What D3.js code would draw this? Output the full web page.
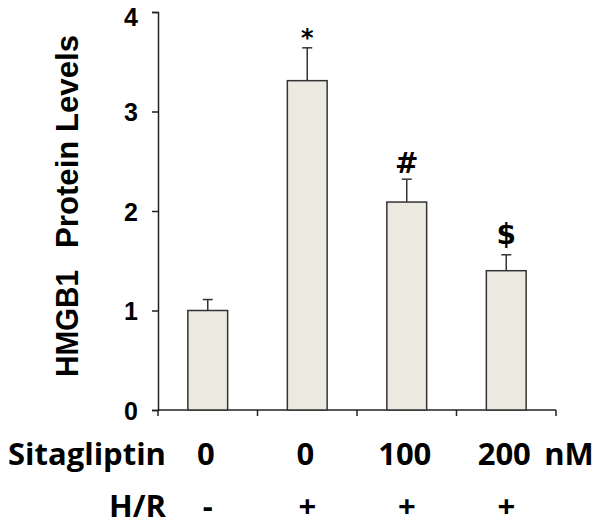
<!DOCTYPE html>
<html><head><meta charset="utf-8">
<script src="https://cdn.jsdelivr.net/npm/d3@7"></script>
<style>body{margin:0;background:#fff}</style>
</head><body>
<svg id="c" width="600" height="526"></svg>
<script>
const categories = ["g1","g2","g3","g4"];
const values = [1.00, 3.31, 2.09, 1.40];
const errors = [0.11, 0.33, 0.23, 0.16];
const marks = ["", "*", "#", "$"];
const sitagliptin = ["0","0","100","200"];
const hr = ["-","+","+","+"];
const yTicks = [0,1,2,3,4];

const svg = d3.select("#c");
const x = d3.scaleBand().domain(categories).range([158, 556]).paddingInner(0.6).paddingOuter(0.3);
const xb = d3.scaleBand().domain(categories).range([158, 556]);
const y = d3.scaleLinear().domain([0,4]).range([410, 12]);
const af = "Liberation Sans, Arial, sans-serif";

// y axis
const ya = svg.append("g").attr("transform","translate(158,0)")
  .call(d3.axisLeft(y).tickValues(yTicks).tickSize(6).tickPadding(14).tickFormat(d3.format("d")));
ya.select(".domain").attr("stroke","#222").attr("stroke-width",1.5);
ya.selectAll(".tick line").attr("stroke","#222").attr("stroke-width",1.5);
ya.selectAll("text").attr("font-family",af).attr("font-weight","bold").attr("font-size",25).attr("fill","#000")
  .attr("dy", d => d === 4 ? "0.55em" : "0.36em");

// x axis line with boundary ticks
const xg = svg.append("g").attr("transform","translate(0,410)");
xg.append("line").attr("x1",158).attr("x2",556).attr("stroke","#222").attr("stroke-width",1.5);
const bounds = categories.map(c=>xb(c)).concat([xb.range()[1]]);
xg.selectAll(".bt").data(bounds).join("line").attr("x1",d=>d).attr("x2",d=>d).attr("y1",0).attr("y2",6).attr("stroke","#222").attr("stroke-width",1.5);

// bars
svg.selectAll(".bar").data(categories).join("rect")
  .attr("x",c=>x(c)).attr("width",x.bandwidth())
  .attr("y",(c,i)=>y(values[i])).attr("height",(c,i)=>y(0)-y(values[i]))
  .attr("fill","#ECEAE0").attr("stroke","#333").attr("stroke-width",1.5);

// error bars
const cx = c => x(c)+x.bandwidth()/2;
svg.selectAll(".err").data(categories).join("line")
  .attr("x1",cx).attr("x2",cx).attr("y1",(c,i)=>y(values[i])).attr("y2",(c,i)=>y(values[i]+errors[i]))
  .attr("stroke","#333").attr("stroke-width",1.5);
svg.selectAll(".cap").data(categories).join("line")
  .attr("x1",c=>cx(c)-5).attr("x2",c=>cx(c)+5).attr("y1",(c,i)=>y(values[i]+errors[i])).attr("y2",(c,i)=>y(values[i]+errors[i]))
  .attr("stroke","#333").attr("stroke-width",1.5);

// significance marks
const markGap = {"*": 2, "#": 6, "$": 11};
const markSize = {"*": 24, "#": 28, "$": 28};
svg.selectAll(".mk").data(categories).join("text")
  .attr("x",cx).attr("y",(c,i)=>y(values[i]+errors[i]) - (markGap[marks[i]]||0))
  .attr("text-anchor","middle").attr("font-family","DejaVu Sans, sans-serif").attr("font-weight","bold")
  .attr("font-size",(c,i)=>markSize[marks[i]]||24).attr("fill","#000").text((c,i)=>marks[i]);

// y title (two word-groups, fitted to reference length)
const tg = svg.append("g").attr("transform","translate(78,0) rotate(-90)");
tg.append("text").attr("x",-323.5).attr("text-anchor","middle")
  .attr("font-family",af).attr("font-weight","bold").attr("font-size",32).attr("fill","#000")
  .attr("textLength",107).attr("lengthAdjust","spacingAndGlyphs").text("HMGB1");
tg.append("text").attr("x",-141.5).attr("text-anchor","middle")
  .attr("font-family",af).attr("font-weight","bold").attr("font-size",32).attr("fill","#000")
  .attr("textLength",213).attr("lengthAdjust","spacingAndGlyphs").text("Protein Levels");

// bottom labels
const bf = "Open Sans, sans-serif";
const fs = 31;
svg.append("text").attr("x",166).attr("y",465).attr("text-anchor","end").attr("font-family",bf).attr("font-weight","bold").attr("font-size",fs).text("Sitagliptin");
svg.append("text").attr("x",166).attr("y",517).attr("text-anchor","end").attr("font-family",bf).attr("font-weight","bold").attr("font-size",fs).text("H/R");
svg.selectAll(".sl").data(categories).join("text")
  .attr("x",c=>cx(c)-2).attr("y",465).attr("text-anchor","middle").attr("font-family",bf).attr("font-weight","bold").attr("font-size",fs)
  .text((c,i)=>sitagliptin[i]);
svg.append("text").attr("x",cx("g4")+38).attr("y",465).attr("font-family",bf).attr("font-weight","bold").attr("font-size",fs).text("nM");
svg.selectAll(".hl").data(categories).join("text")
  .attr("x",cx).attr("y",517).attr("text-anchor","middle").attr("font-family",bf).attr("font-weight","bold").attr("font-size",fs)
  .text((c,i)=>hr[i]);
</script>
</body></html>
